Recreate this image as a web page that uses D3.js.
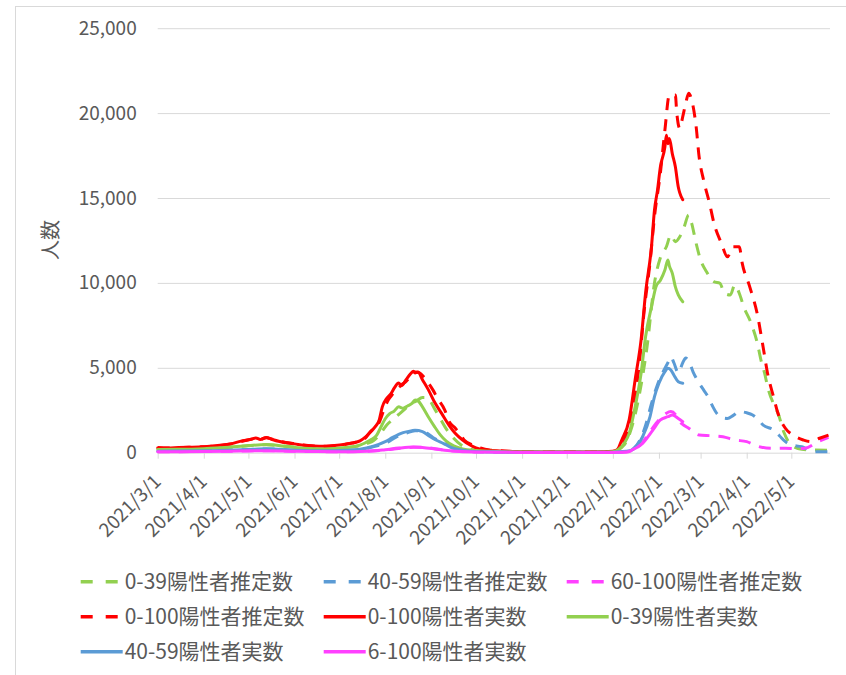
<!DOCTYPE html>
<html>
<head>
<meta charset="utf-8">
<script src="https://cdn.jsdelivr.net/npm/d3@7"></script>
<style>
  body { margin: 0; background: #fff; }
  svg { display: block; }
  text { font-family: "Noto Sans CJK JP", "Noto Sans", sans-serif; fill: #595959; }
</style>
</head>
<body>
<svg id="chart" width="846" height="675"></svg>
<script>
// Daily positive counts (persons), sampled at turning points: [date, value]
const est039 = [
  ["2021-03-01",200],["2021-03-15",200],["2021-04-01",240],["2021-04-15",300],["2021-05-01",410],["2021-05-13",470],
  ["2021-05-25",390],["2021-06-07",270],["2021-06-21",220],["2021-07-05",290],["2021-07-15",420],["2021-07-20",550],
  ["2021-07-24",700],["2021-07-28",1040],["2021-08-02",1630],["2021-08-06",1950],["2021-08-10",2250],["2021-08-14",2550],
  ["2021-08-18",2850],["2021-08-22",3050],["2021-08-26",3250],["2021-08-29",3250],["2021-09-03",2610],["2021-09-07",2000],
  ["2021-09-11",1400],["2021-09-16",850],["2021-09-21",450],["2021-09-27",220],["2021-10-03",120],["2021-10-15",70],
  ["2021-11-01",35],["2021-12-01",25],["2021-12-25",30],
  ["2022-01-01",60],["2022-01-09",500],["2022-01-13",1300],["2022-01-19",3500],["2022-01-24",6240],["2022-01-29",10000],
  ["2022-02-02",11500],["2022-02-06",12130],["2022-02-09",12820],["2022-02-12",12430],["2022-02-15",12720],["2022-02-18",13310],
  ["2022-02-21",14000],["2022-02-23",13510],["2022-02-26",12330],["2022-03-01",11350],["2022-03-05",10660],["2022-03-10",10070],
  ["2022-03-14",9980],["2022-03-17",9390],["2022-03-21",9290],["2022-03-24",9880],["2022-03-27",9390],["2022-03-30",8600],
  ["2022-04-04",7620],["2022-04-08",6500],["2022-04-11",5300],["2022-04-13",4700],["2022-04-15",3900],["2022-04-20",2700],
  ["2022-04-22",2340],["2022-04-26",1200],["2022-05-01",450],["2022-05-08",200],["2022-05-16",160],["2022-05-26",150]
];
const est4059 = [
  ["2021-03-01",90],["2021-04-01",110],["2021-05-01",185],["2021-05-15",225],["2021-06-01",145],["2021-06-21",110],
  ["2021-07-05",135],["2021-07-15",190],["2021-07-25",370],["2021-08-03",640],["2021-08-08",900],["2021-08-15",1150],
  ["2021-08-21",1300],["2021-08-24",1300],["2021-08-29",1150],["2021-09-02",900],["2021-09-06",700],["2021-09-11",500],
  ["2021-09-16",300],["2021-09-22",160],["2021-09-29",90],["2021-10-12",50],["2021-11-01",25],["2021-12-01",20],
  ["2022-01-01",30],["2022-01-10",80],["2022-01-15",250],["2022-01-19",700],["2022-01-23",1600],["2022-01-27",2900],
  ["2022-01-31",4000],["2022-02-04",4800],["2022-02-07",5300],["2022-02-09",5650],["2022-02-11",5300],["2022-02-14",4700],
  ["2022-02-17",5300],["2022-02-19",5570],["2022-02-21",5400],["2022-02-24",4750],["2022-02-28",4100],["2022-03-03",3700],
  ["2022-03-06",3300],["2022-03-09",2750],["2022-03-12",2300],["2022-03-16",2050],["2022-03-19",2020],["2022-03-23",2200],
  ["2022-03-27",2420],["2022-04-01",2350],["2022-04-05",2220],["2022-04-09",1930],["2022-04-12",1630],["2022-04-19",1340],
  ["2022-04-23",1000],["2022-04-27",650],["2022-05-01",450],["2022-05-08",350],["2022-05-12",200],["2022-05-16",60],
  ["2022-05-26",50]
];
const est60100 = [
  ["2021-03-01",60],["2021-04-01",70],["2021-05-01",105],["2021-05-15",120],["2021-06-01",85],["2021-07-01",60],
  ["2021-07-20",85],["2021-08-01",160],["2021-08-10",250],["2021-08-20",320],["2021-08-27",310],["2021-09-06",200],
  ["2021-09-16",100],["2021-10-01",45],["2021-11-01",15],["2021-12-01",10],
  ["2022-01-01",15],["2022-01-10",40],["2022-01-15",180],["2022-01-20",500],["2022-01-25",1100],["2022-01-30",1730],
  ["2022-02-03",2100],["2022-02-06",2320],["2022-02-09",2420],["2022-02-12",2250],["2022-02-14",1930],["2022-02-18",1600],
  ["2022-02-21",1440],["2022-02-28",1040],["2022-03-08",1000],["2022-03-16",940],["2022-03-24",750],["2022-04-01",650],
  ["2022-04-08",390],["2022-04-18",260],["2022-04-27",260],["2022-05-05",240],["2022-05-10",260],["2022-05-19",650],
  ["2022-05-26",900]
];
const est0100 = [
  ["2021-03-01",300],["2021-03-08",270],["2021-03-15",290],["2021-03-22",320],["2021-03-29",340],["2021-04-05",370],
  ["2021-04-12",430],["2021-04-19",510],["2021-04-26",660],["2021-05-03",790],["2021-05-06",860],["2021-05-09",790],
  ["2021-05-13",880],["2021-05-17",790],["2021-05-22",670],["2021-05-27",590],["2021-06-01",530],["2021-06-07",450],
  ["2021-06-14",400],["2021-06-21",380],["2021-06-28",410],["2021-07-05",490],["2021-07-10",570],["2021-07-15",690],
  ["2021-07-19",900],["2021-07-22",1250],["2021-07-25",1450],["2021-07-28",1800],["2021-07-31",2500],["2021-08-03",3100],
  ["2021-08-06",3450],["2021-08-09",3750],["2021-08-12",4000],["2021-08-15",4200],["2021-08-18",4500],["2021-08-21",4750],
  ["2021-08-24",4700],["2021-08-27",4450],["2021-08-30",4100],["2021-09-02",3700],["2021-09-05",3220],["2021-09-10",2510],
  ["2021-09-13",1830],["2021-09-17",1450],["2021-09-20",1140],["2021-09-23",750],["2021-09-29",450],["2021-10-04",280],
  ["2021-10-10",160],["2021-10-20",100],["2021-10-31",60],["2021-11-15",40],["2021-12-01",35],["2021-12-20",40],
  ["2022-01-01",70],["2022-01-05",250],["2022-01-10",1000],["2022-01-15",2800],["2022-01-19",5400],["2022-01-22",8300],
  ["2022-01-26",11200],["2022-01-29",13900],["2022-02-02",16500],["2022-02-05",19000],["2022-02-08",21060],["2022-02-12",21060],
  ["2022-02-13",20000],["2022-02-15",19100],["2022-02-17",19790],["2022-02-19",20580],["2022-02-21",21170],["2022-02-23",20770],
  ["2022-02-26",19200],["2022-02-28",17430],["2022-03-03",16060],["2022-03-07",14690],["2022-03-10",13510],["2022-03-15",12330],
  ["2022-03-19",11540],["2022-03-23",12130],["2022-03-27",12130],["2022-03-29",11150],["2022-04-03",9780],["2022-04-08",8210],
  ["2022-04-12",6240],["2022-04-15",4680],["2022-04-19",3300],["2022-04-22",2320],["2022-04-27",1440],["2022-05-02",1040],
  ["2022-05-09",750],["2022-05-14",650],["2022-05-20",850],["2022-05-26",1040]
];
const act0100 = [
  ["2021-03-01",280],["2021-03-08",270],["2021-03-15",300],["2021-03-22",320],["2021-03-29",340],["2021-04-05",380],
  ["2021-04-12",440],["2021-04-19",520],["2021-04-26",680],["2021-05-03",800],["2021-05-06",870],["2021-05-09",780],
  ["2021-05-13",900],["2021-05-17",780],["2021-05-22",660],["2021-05-27",580],["2021-06-01",520],["2021-06-07",440],
  ["2021-06-14",390],["2021-06-21",380],["2021-06-28",420],["2021-07-05",500],["2021-07-10",580],["2021-07-15",700],
  ["2021-07-19",950],["2021-07-22",1200],["2021-07-25",1500],["2021-07-28",1950],["2021-07-30",2700],["2021-08-02",3200],
  ["2021-08-05",3500],["2021-08-07",3800],["2021-08-10",4100],["2021-08-12",3950],["2021-08-15",4300],["2021-08-18",4650],
  ["2021-08-20",4800],["2021-08-21",4700],["2021-08-23",4750],["2021-08-26",4300],["2021-08-30",3700],["2021-09-03",3000],
  ["2021-09-08",2300],["2021-09-13",1600],["2021-09-17",1150],["2021-09-22",750],["2021-09-27",450],["2021-10-01",280],
  ["2021-10-08",160],["2021-10-17",100],["2021-10-31",60],["2021-11-15",40],["2021-12-01",35],["2021-12-20",40],
  ["2022-01-01",80],["2022-01-04",180],["2022-01-07",750],["2022-01-12",1950],["2022-01-16",4300],["2022-01-20",6650],
  ["2022-01-23",9400],["2022-01-27",12150],["2022-01-29",14300],["2022-01-31",15450],["2022-02-02",16850],["2022-02-05",18000],
  ["2022-02-06",18700],["2022-02-07",18200],["2022-02-08",18500],["2022-02-10",17600],["2022-02-12",16850],["2022-02-14",15650],
  ["2022-02-15",15300],["2022-02-17",14900]
];
const act039 = [
  ["2021-03-01",190],["2021-03-15",200],["2021-04-01",240],["2021-04-15",300],["2021-05-01",420],["2021-05-13",480],
  ["2021-05-25",380],["2021-06-07",260],["2021-06-21",220],["2021-07-05",300],["2021-07-15",450],["2021-07-22",750],
  ["2021-07-26",1000],["2021-07-29",1500],["2021-08-01",2000],["2021-08-04",2300],["2021-08-07",2450],["2021-08-10",2700],
  ["2021-08-13",2620],["2021-08-16",2750],["2021-08-19",2900],["2021-08-21",3100],["2021-08-23",3050],["2021-08-26",2700],
  ["2021-08-30",2100],["2021-09-03",1550],["2021-09-07",1050],["2021-09-11",680],["2021-09-16",400],["2021-09-22",220],
  ["2021-10-01",130],["2021-10-15",70],["2021-11-01",35],["2021-12-01",25],["2021-12-25",30],
  ["2022-01-01",60],["2022-01-05",200],["2022-01-09",600],["2022-01-12",1140],["2022-01-16",2710],["2022-01-20",4680],
  ["2022-01-23",6830],["2022-01-27",8600],["2022-01-30",9780],["2022-02-02",10160],["2022-02-05",10760],["2022-02-07",11350],
  ["2022-02-08",11000],["2022-02-10",10560],["2022-02-12",9780],["2022-02-14",9290],["2022-02-17",8890]
];
const act4059 = [
  ["2021-03-01",90],["2021-04-01",110],["2021-05-01",190],["2021-05-13",230],["2021-06-01",140],["2021-06-21",110],
  ["2021-07-05",140],["2021-07-15",200],["2021-07-24",380],["2021-08-01",650],["2021-08-06",900],["2021-08-13",1180],
  ["2021-08-19",1300],["2021-08-21",1320],["2021-08-26",1240],["2021-08-31",950],["2021-09-04",750],["2021-09-09",550],
  ["2021-09-14",320],["2021-09-20",170],["2021-09-27",90],["2021-10-10",50],["2021-11-01",25],["2021-12-01",20],
  ["2022-01-01",30],["2022-01-10",80],["2022-01-14",160],["2022-01-18",500],["2022-01-21",940],["2022-01-26",2120],
  ["2022-01-29",3300],["2022-02-01",4090],["2022-02-05",4770],["2022-02-07",4970],["2022-02-09",4870],["2022-02-11",4580],
  ["2022-02-14",4180],["2022-02-17",4090]
];
const act60100 = [
  ["2021-03-01",60],["2021-04-01",70],["2021-05-01",110],["2021-05-15",120],["2021-06-01",80],["2021-07-01",60],
  ["2021-07-20",90],["2021-08-01",180],["2021-08-10",270],["2021-08-20",330],["2021-08-26",310],["2021-09-05",200],
  ["2021-09-15",100],["2021-10-01",40],["2021-11-01",15],["2021-12-01",10],
  ["2022-01-01",15],["2022-01-10",40],["2022-01-14",160],["2022-01-21",550],["2022-01-28",1340],["2022-02-02",1930],
  ["2022-02-07",2120],["2022-02-10",2220],["2022-02-14",2020],["2022-02-17",1830]
];

const seriesNames = ["0-39陽性者推定数","40-59陽性者推定数","60-100陽性者推定数","0-100陽性者推定数",
                     "0-100陽性者実数","0-39陽性者実数","40-59陽性者実数","6-100陽性者実数"];
const seriesValues = [est039, est4059, est60100, est0100, act0100, act039, act4059, act60100];
const seriesColors = ["#92d050","#5b9bd5","#ff40ff","#ff0000","#ff0000","#92d050","#5b9bd5","#ff40ff"];
const seriesDashed = [true, true, true, true, false, false, false, false];

const yTicks = [0, 5000, 10000, 15000, 20000, 25000];
const xStart = "2021-03-01", xEnd = "2022-05-27";
const xTickMonths = ["2021-03-01","2021-04-01","2021-05-01","2021-06-01","2021-07-01","2021-08-01","2021-09-01",
  "2021-10-01","2021-11-01","2021-12-01","2022-01-01","2022-02-01","2022-03-01","2022-04-01","2022-05-01"];
const yTitle = "人数";

const parse = d3.utcParse("%Y-%m-%d");
const fmt = d3.utcFormat("%Y/%-m/%-d");
const svg = d3.select("#chart");

// chart frame
svg.append("rect").attr("x", 15.5).attr("y", 6.5).attr("width", 840).attr("height", 680)
  .attr("fill", "none").attr("stroke", "#d9d9d9");

const plot = { left: 157.7, right: 830, top: 28.2, bottom: 452.7 };
const x = d3.scaleUtc().domain([parse(xStart), parse(xEnd)]).range([plot.left, plot.right]);
const y = d3.scaleLinear().domain([0, 25000]).range([plot.bottom, plot.top]);

// y axis with horizontal gridlines
const gY = svg.append("g").attr("transform", `translate(${plot.left},0)`)
  .call(d3.axisLeft(y).tickValues(yTicks).tickFormat(d3.format(","))
    .tickSizeInner(-(plot.right - plot.left)).tickSizeOuter(0).tickPadding(21));
gY.select(".domain").remove();
gY.selectAll(".tick line").attr("stroke", "#d9d9d9").attr("stroke-width", 1);
gY.selectAll(".tick text").attr("font-size", 19).attr("fill", "#595959")
  .style("font-family", "'Noto Sans CJK JP','Noto Sans',sans-serif");

// x axis: monthly ticks, rotated labels
const gX = svg.append("g").attr("transform", `translate(0,${plot.bottom})`)
  .call(d3.axisBottom(x).tickValues(xTickMonths.map(parse)).tickFormat(fmt).tickSizeInner(6).tickSizeOuter(0));
gX.select(".domain").remove();
gX.selectAll(".tick line").attr("stroke", "#d9d9d9");
gX.selectAll(".tick text")
  .attr("y", null).attr("dy", null).attr("x", null)
  .attr("text-anchor", "end")
  .attr("transform", "translate(4,30) rotate(-45)")
  .attr("font-size", 19).attr("fill", "#595959")
  .style("font-family", "'Noto Sans CJK JP','Noto Sans',sans-serif");

// y axis title
svg.append("text").attr("transform", "translate(58,240) rotate(-90)")
  .attr("text-anchor", "middle").attr("font-size", 20).text(yTitle);

// series lines
const line = d3.line().x(d => x(parse(d[0]))).y(d => y(d[1])).curve(d3.curveMonotoneX);
const gLines = svg.append("g");
seriesValues.forEach((vals, i) => {
  gLines.append("path").datum(vals).attr("d", line)
    .attr("fill", "none").attr("stroke", seriesColors[i]).attr("stroke-width", 3)
    .attr("stroke-linejoin", "round")
    .attr("stroke-linecap", seriesDashed[i] ? "butt" : "round")
    .attr("stroke-dasharray", seriesDashed[i] ? "12,9" : null);
});

// legend: 3 columns
const leg = svg.append("g");
seriesNames.forEach((name, i) => {
  const col = i % 3, row = Math.floor(i / 3);
  const lx = 80.7 + col * 243, ly = 581.7 + row * 35;
  leg.append("line").attr("x1", lx).attr("x2", lx + (seriesDashed[i] ? 38 : 42))
    .attr("y1", ly).attr("y2", ly)
    .attr("stroke", seriesColors[i]).attr("stroke-width", 3.5)
    .attr("stroke-dasharray", seriesDashed[i] ? "12,13" : null);
  leg.append("text").attr("x", lx + 44).attr("y", ly).attr("dy", "0.36em")
    .attr("font-size", 21).text(name);
});
</script>
</body>
</html>
